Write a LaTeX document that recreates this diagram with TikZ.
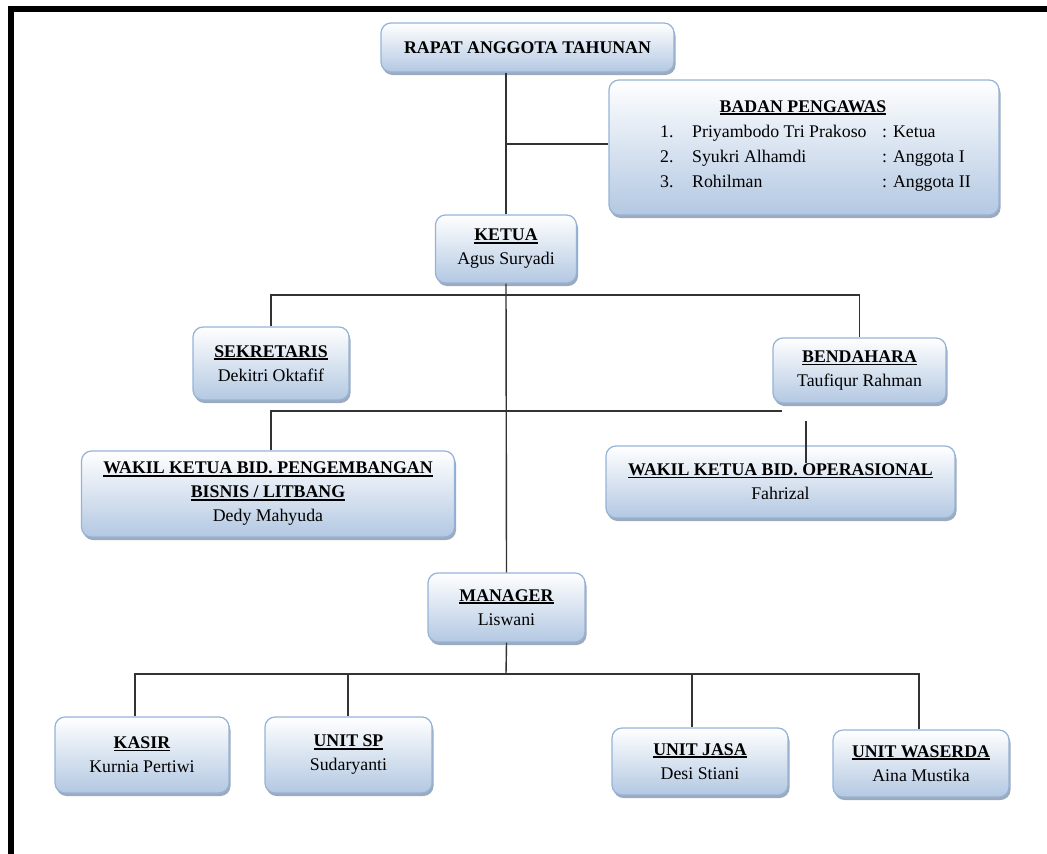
\documentclass[tikz,border=0pt]{standalone}
\usepackage{fontspec}
\setmainfont{Liberation Serif}
\usetikzlibrary{shadows}
\definecolor{boxbot}{HTML}{B3C8E2}
\definecolor{boxline}{HTML}{95B3D7}
\definecolor{shadowc}{HTML}{8C9BB0}
\newsavebox\ttlbox
\newcommand\ttl[1]{\sbox\ttlbox{\textbf{#1}}\leavevmode\rlap{\usebox\ttlbox}\rule[-2.6pt]{\wd\ttlbox}{1.5pt}}
\tikzset{
  orgbox/.style={draw=boxline, line width=1.2pt, rounded corners=10pt,
    top color=white, bottom color=boxbot,
    drop shadow={shadow xshift=1.5pt, shadow yshift=-3pt, fill=shadowc, opacity=0.85},
    align=center, inner sep=0pt, font=\fontsize{17.8}{24}\selectfont},
  conn/.style={line width=1.4pt, draw=black!80},
  bord/.style={fill=black, draw=none}
}
\begin{document}
\begin{tikzpicture}[x=1pt,y=-1pt]
\useasboundingbox (0,0) rectangle (1047,854);
% page border
\fill[bord] (8,6) rectangle (1047,12);
\fill[bord] (8,6) rectangle (14,854);

% boxes
\node[orgbox, minimum width=293pt, minimum height=49pt] (rapat) at (527.5,47.5) {\textbf{RAPAT ANGGOTA TAHUNAN}};
\node[orgbox, minimum width=390pt, minimum height=135pt] (badan) at (804,147.5) {};
\node[anchor=base, inner sep=0pt, font=\fontsize{17.8}{24}\selectfont] (btitle) at (803,112) {\ttl{BADAN PENGAWAS}};
\node[anchor=base west, inner sep=0pt, font=\fontsize{17.8}{25}\selectfont] (blist) at (660,137)
  {\begin{tabular}[t]{@{}p{32pt}@{}p{190pt}@{}l@{}}
   1. & Priyambodo Tri Prakoso & : Ketua\\
   2. & Syukri Alhamdi & : Anggota I\\
   3. & Rohilman & : Anggota II
   \end{tabular}};
\node[orgbox, minimum width=141pt, minimum height=68pt] (ketua) at (506,249) {\ttl{KETUA}\\Agus Suryadi};
\node[orgbox, minimum width=156pt, minimum height=73pt] (sek) at (271,363.5) {\ttl{SEKRETARIS}\\Dekitri Oktafif};
\node[orgbox, minimum width=173pt, minimum height=65pt] (bend) at (859.5,370.5) {\ttl{BENDAHARA}\\Taufiqur Rahman};
\node[orgbox, minimum width=373pt, minimum height=86pt] (wpb) at (268,494) {\ttl{WAKIL KETUA BID. PENGEMBANGAN}\\\ttl{BISNIS / LITBANG}\\Dedy Mahyuda};
\node[orgbox, minimum width=349pt, minimum height=72pt] (wops) at (780.5,482) {\ttl{WAKIL KETUA BID. OPERASIONAL}\\Fahrizal};
\node[orgbox, minimum width=157pt, minimum height=69pt] (manager) at (506.5,607.5) {\ttl{MANAGER}\\Liswani};
\node[orgbox, minimum width=174pt, minimum height=76pt] (kasir) at (142,755) {\ttl{KASIR}\\Kurnia Pertiwi};
\node[orgbox, minimum width=167pt, minimum height=76pt] (unitsp) at (348.5,755) {\ttl{UNIT SP}\\Sudaryanti};
\node[orgbox, minimum width=176pt, minimum height=67pt] (jasa) at (700,761.5) {\ttl{UNIT JASA}\\Desi Stiani};
\node[orgbox, minimum width=176pt, minimum height=67pt] (waserda) at (921,763.5) {\ttl{UNIT WASERDA}\\Aina Mustika};

% coordinates
\coordinate (kb) at (506,295);
\coordinate (wb) at (271,411);
\coordinate (wbend) at (782,411);
\coordinate (opsA) at (806,421);
\coordinate (opsB) at (806,463);
\coordinate (mb) at (506,674);
\coordinate (bk) at (135,674);
\coordinate (bs) at (348,674);
\coordinate (bj) at (692,674);
\coordinate (bw) at (919,674);

% connectors
\draw[conn] (rapat.south -| ketua.north) -- (ketua.north);
\draw[conn] (ketua.north |- 0,144) -- (badan.west |- 0,144);
\draw[conn] (ketua.south) -- (manager.north);
\draw[conn] (sek.north) -- (sek.north |- kb) -- (bend.north |- kb) -- (bend.north);
\draw[conn] (wb |- wpb.north) -- (wb) -- (wbend);
\draw[conn] (opsA) -- (opsB);
\draw[conn] (manager.south) -- (mb);
\draw[conn] (bk |- kasir.north) -- (bk) -- (bw) -- (bw |- waserda.north);
\draw[conn] (bs) -- (bs |- unitsp.north);
\draw[conn] (bj) -- (bj |- jasa.north);
\end{tikzpicture}
\end{document}
